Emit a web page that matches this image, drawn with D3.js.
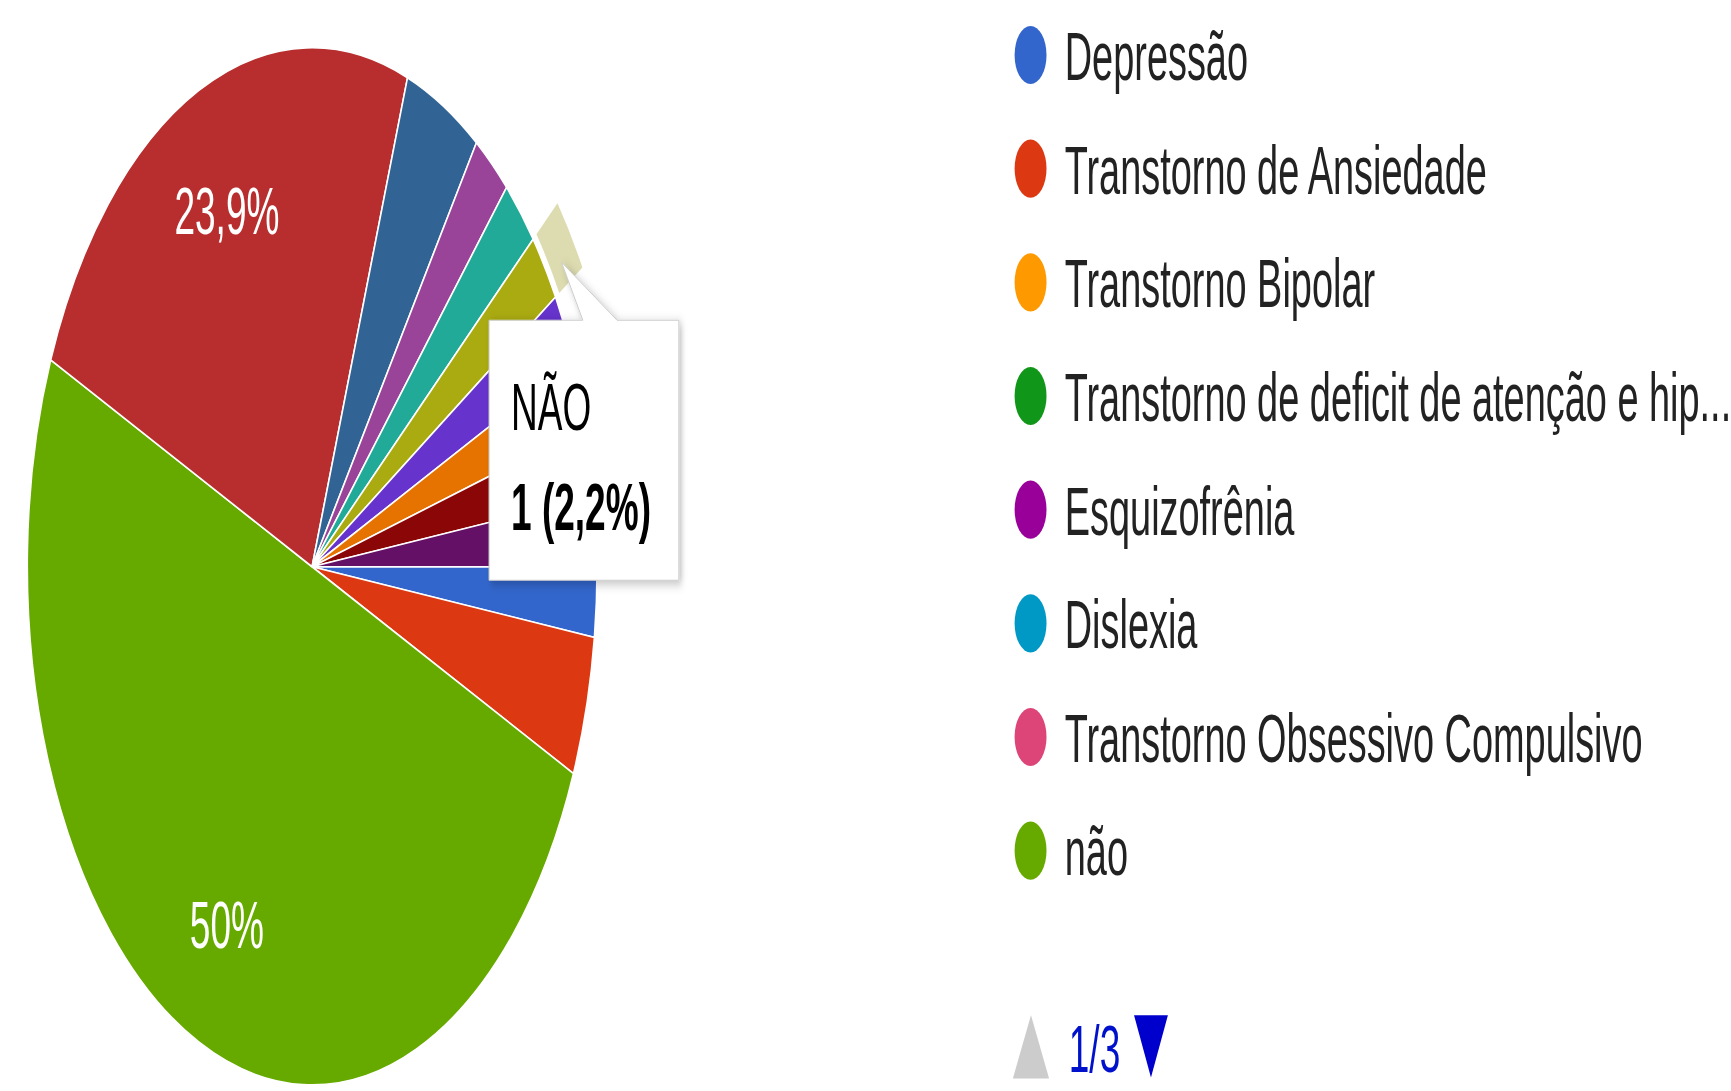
<!DOCTYPE html>
<html>
<head>
<meta charset="utf-8">
<script src="https://cdn.jsdelivr.net/npm/d3@7"></script>
<style>
  html, body { margin: 0; padding: 0; background: #fff; }
  svg { display: block; }
  text { font-family: Arial, "Liberation Sans", sans-serif; }
</style>
</head>
<body>
<div id="chart"></div>
<script>
// answers of the form, in the order google draws them (clockwise)
var categories = ["Depressão", "Transtorno de Ansiedade", "Transtorno Bipolar",
    "Transtorno de deficit de atenção e hiperatividade", "Esquizofrênia", "Dislexia",
    "Transtorno Obsessivo Compulsivo", "não", "Resposta 9", "Resposta 10", "Resposta 11",
    "Resposta 12", "NÃO", "Resposta 14", "Resposta 15", "Resposta 16", "Resposta 17"]
var counts = [1, 2, 0, 0, 0, 0, 0, 23, 11, 2, 1, 1, 1, 1, 1, 1, 1]
var palette = ["#3366cc", "#dc3912", "#ff9900", "#109618", "#990099", "#0099c6", "#dd4477",
    "#66aa00", "#b82e2e", "#316395", "#994499", "#22aa99", "#aaaa11", "#6633cc", "#e67300",
    "#8b0707", "#651067"]

// legend page 1 of 3
var legendLabels = ["Depressão", "Transtorno de Ansiedade", "Transtorno Bipolar",
    "Transtorno de deficit de atenção e hip...", "Esquizofrênia", "Dislexia",
    "Transtorno Obsessivo Compulsivo", "não"]
var pageLabel = "1/3"

var hovered = "NÃO"

var width = 1731
var height = 1091
// the picture is a small google chart blown up unevenly
var sx = 2.85, sy = 5.19
var radius = 100
var cx = 109.5, cy = 109.2

var total = d3.sum(counts)
var fmt = function(v) { return d3.format(".1f")(v * 100).replace(".", ",").replace(",0", "") + "%" }

var color = d3.scaleOrdinal()
    .domain(categories)
    .range(palette)

var svg = d3.select("#chart")
    .append("svg")
    .attr("width", width)
    .attr("height", height)

var defs = svg.append("defs")
defs.append("filter")
    .attr("id", "shadow")
    .attr("x", "-20%").attr("y", "-20%").attr("width", "150%").attr("height", "150%")
    .append("feDropShadow")
    .attr("dx", 0.8).attr("dy", 0.6).attr("stdDeviation", 1)
    .attr("flood-color", "#000").attr("flood-opacity", 0.25)

var root = svg.append("g")
    .attr("transform", "scale(" + sx + "," + sy + ")")

var pie = d3.pie()
    .sort(null)
    .startAngle(Math.PI / 2)
    .endAngle(Math.PI / 2 + 2 * Math.PI)
    .value(function(d) { return d.value })

var data_ready = pie(categories.map(function(c, i) { return { key: c, value: counts[i] } }))
    .filter(function(d) { return d.value > 0 })

var arcGenerator = d3.arc()
    .innerRadius(0)
    .outerRadius(radius)

var labelArc = d3.arc()
    .innerRadius(radius * 0.75)
    .outerRadius(radius * 0.75)

var ringArc = d3.arc()
    .innerRadius(radius + 1.5)
    .outerRadius(radius + 11)

var pieG = root.append("g")
    .attr("transform", "translate(" + cx + "," + cy + ")")

pieG.selectAll("path.slice")
    .data(data_ready)
    .enter()
    .append("path")
    .attr("class", "slice")
    .attr("d", arcGenerator)
    .attr("fill", function(d) { return color(d.data.key) })
    .attr("stroke", "#fff")
    .attr("stroke-width", 1.6)
    .attr("vector-effect", "non-scaling-stroke")

// hover ring on the highlighted slice
pieG.selectAll("path.ring")
    .data(data_ready.filter(function(d) { return d.data.key == hovered }))
    .enter()
    .append("path")
    .attr("class", "ring")
    .attr("d", ringArc)
    .attr("fill", "#dddcb0")

// only the big slices get a label
pieG.selectAll("text.pct")
    .data(data_ready.filter(function(d) { return d.value / total > 0.1 }))
    .enter()
    .append("text")
    .attr("class", "pct")
    .text(function(d) { return fmt(d.value / total) })
    .attr("transform", function(d) { return "translate(" + labelArc.centroid(d) + ")" })
    .attr("dy", "0.36em")
    .style("text-anchor", "middle")
    .style("font-size", "13px")
    .style("fill", "#fff")

// tooltip
var hov = data_ready.filter(function(d) { return d.data.key == hovered })[0]
var tip = root.append("g")
tip.append("path")
    .attr("d", "M171.6,61.7 L204.5,61.7 L197,50.5 L216.5,61.7 L238.2,61.7 L238.2,111.8 L171.6,111.8 Z")
    .attr("fill", "#fff")
    .attr("stroke", "#cccccc")
    .attr("stroke-width", 1)
    .attr("vector-effect", "non-scaling-stroke")
    .attr("filter", "url(#shadow)")
tip.append("text")
    .attr("x", 179.3).attr("y", 82.9)
    .text(hov.data.key)
    .style("font-size", "13px")
    .style("fill", "#000")
tip.append("text")
    .attr("x", 179.3).attr("y", 102.2)
    .text(hov.value + " (" + fmt(hov.value / total) + ")")
    .style("font-size", "13px")
    .style("font-weight", "bold")
    .style("fill", "#000")

// legend
var legendY = d3.scaleLinear()
    .domain([0, 1])
    .range([10.6, 32.5])

var legend = root.append("g")
var rows = legend.selectAll("g.row")
    .data(legendLabels)
    .enter()
    .append("g")
    .attr("class", "row")
    .attr("transform", function(d, i) { return "translate(361.6," + legendY(i) + ")" })

rows.append("circle")
    .attr("r", 5.6)
    .attr("fill", function(d, i) { return palette[i] })

rows.append("text")
    .attr("x", 12)
    .attr("dy", "0.36em")
    .text(function(d) { return d })
    .style("font-size", "13.3px")
    .style("fill", "#222")

// pager
var pager = legend.append("g")
    .attr("transform", "translate(0,-2)")
pager.append("path")
    .attr("d", "M355.4,209.8 L368.1,209.8 L361.75,197.6 Z")
    .attr("fill", "#cccccc")
pager.append("text")
    .attr("x", 375).attr("y", 208.5)
    .text(pageLabel)
    .style("font-size", "13px")
    .style("fill", "#0011cc")
pager.append("path")
    .attr("d", "M397.9,197.6 L409.8,197.6 L403.85,209.6 Z")
    .attr("fill", "#0000cc")
</script>
</body>
</html>
